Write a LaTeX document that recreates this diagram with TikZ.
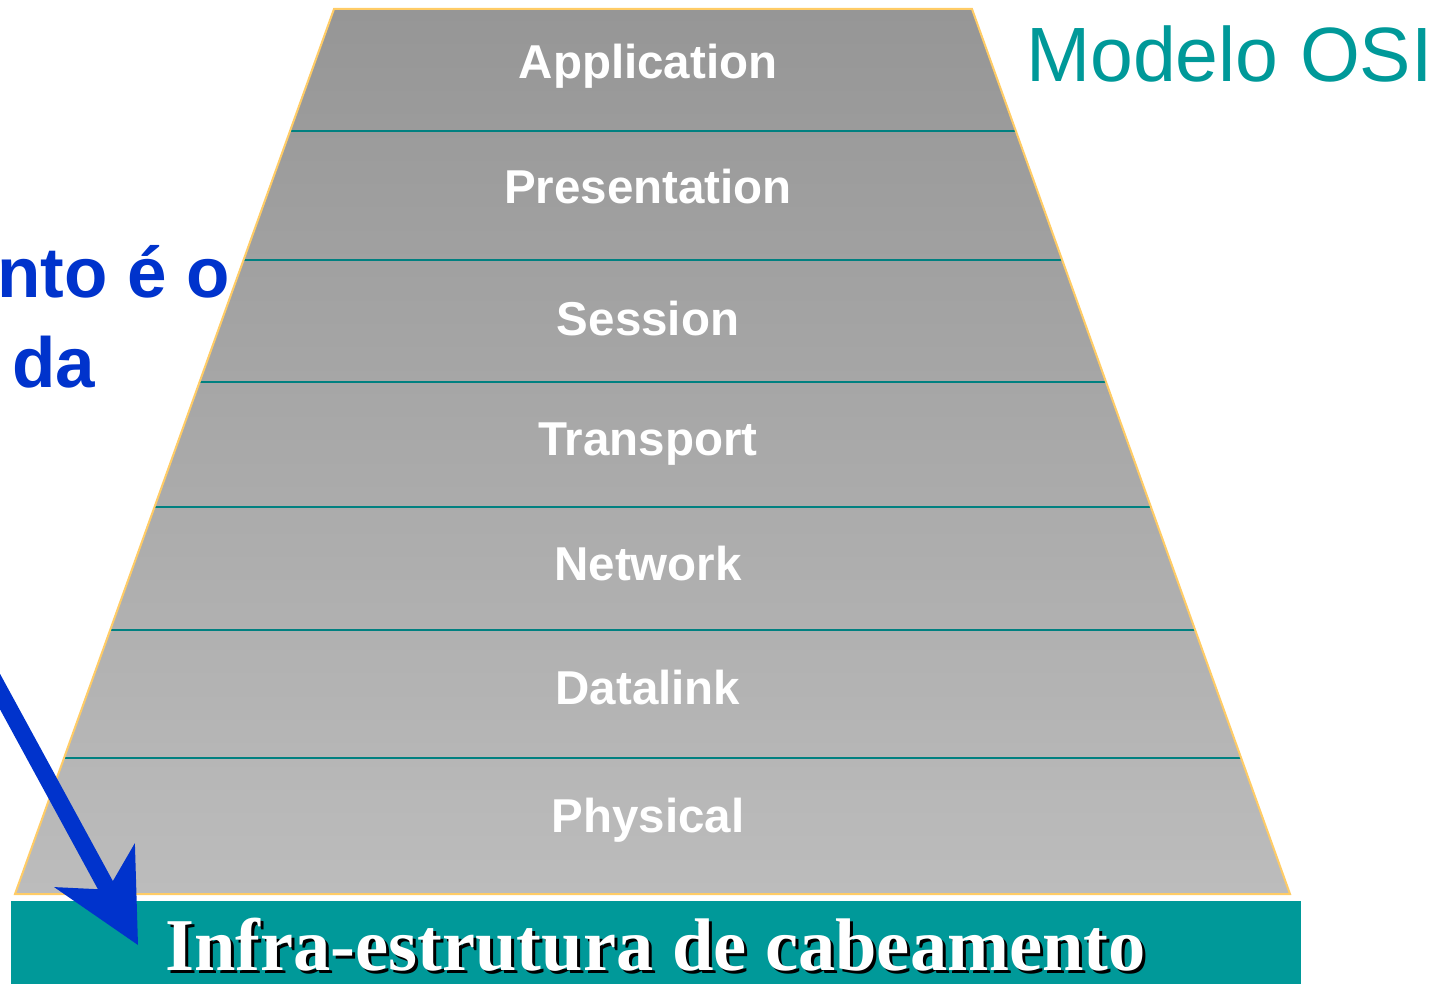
\documentclass[tikz,border=0pt]{standalone}
\usepackage{fontspec}
\setmainfont{Liberation Sans}
\newfontfamily\timesfont{Liberation Serif}
\usetikzlibrary{arrows.meta,calc}
\definecolor{osiTeal}{RGB}{0,153,153}
\definecolor{lineTeal}{RGB}{0,128,128}
\definecolor{rimGold}{RGB}{255,204,102}
\definecolor{osiBlue}{RGB}{0,51,204}
\definecolor{greyTop}{RGB}{150,150,150}
\definecolor{greyBot}{RGB}{188,188,188}
\begin{document}
\begin{tikzpicture}[x=1pt,y=-1pt,
  divider/.style={draw=lineTeal,line width=2.4pt},
  rim/.style={draw=rimGold,line width=2pt,line join=miter},
  layerlabel/.style={anchor=base,inner sep=0pt,text=white,font=\fontsize{47.5}{50}\selectfont\bfseries},
  bluetext/.style={inner sep=0pt,text=osiBlue,font=\fontsize{71}{74}\selectfont\bfseries},
  cabletext/.style={anchor=base west,inner sep=0pt,font=\timesfont\fontsize{74.5}{78}\selectfont\bfseries}]
\useasboundingbox (0,0) rectangle (1447,984);
\clip (0,0) rectangle (1447,984);
% trapezoid
\coordinate (TL) at (334,9);
\coordinate (TR) at (972,9);
\coordinate (BR) at (1290,894);
\coordinate (BL) at (15,894);
\shade[top color=greyTop,bottom color=greyBot] (TL)--(TR)--(BR)--(BL)--cycle;
\foreach \yy in {131,260,382,507,630,758}{
  \draw[divider] ($(TL)!{(\yy-9)/885}!(BL)$) -- ($(TR)!{(\yy-9)/885}!(BR)$);
}
\draw[rim] (TL)--(TR)--(BR)--(BL)--cycle;
% layer labels
\node[layerlabel] (app) at (648,79) {Application};
\node[layerlabel] (pres) at (648,204) {Presentation};
\node[layerlabel] (sess) at (648,335) {Session};
\node[layerlabel] (trans) at (648,455) {Transport};
\node[layerlabel] (net) at (648,580) {Network};
\node[layerlabel] (dl) at (648,704) {Datalink};
\node[layerlabel] (phys) at (648,832) {Physical};
% title
\node[anchor=base west,inner sep=0pt,text=osiTeal,font=\fontsize{77}{80}\selectfont] (title) at (1026,82) {Modelo OSI};
% left blue text
\node[bluetext,anchor=base east] (line1) at (230,297) {nto é o};
\node[bluetext,anchor=base west] (line2) at (12,387) {da};
% cabling bar
\node[fill=osiTeal,draw=none,inner sep=0pt,minimum width=1290pt,minimum height=90pt,anchor=north west] (bar) at (11,901) {};
\node[cabletext,text=black] (cableshadow) at (168,973) {Infra-estrutura de cabeamento};
\node[cabletext,text=white] (cable) at (165,970) {Infra-estrutura de cabeamento};
% arrow
\coordinate (arrowFrom) at (-15,664);
\coordinate (arrowTo) at (138,945);
\draw[osiBlue,line width=17pt,-{Stealth[length=91pt,width=92pt,inset=28pt,line width=0pt]}] (arrowFrom) -- (arrowTo);
\end{tikzpicture}
\end{document}
